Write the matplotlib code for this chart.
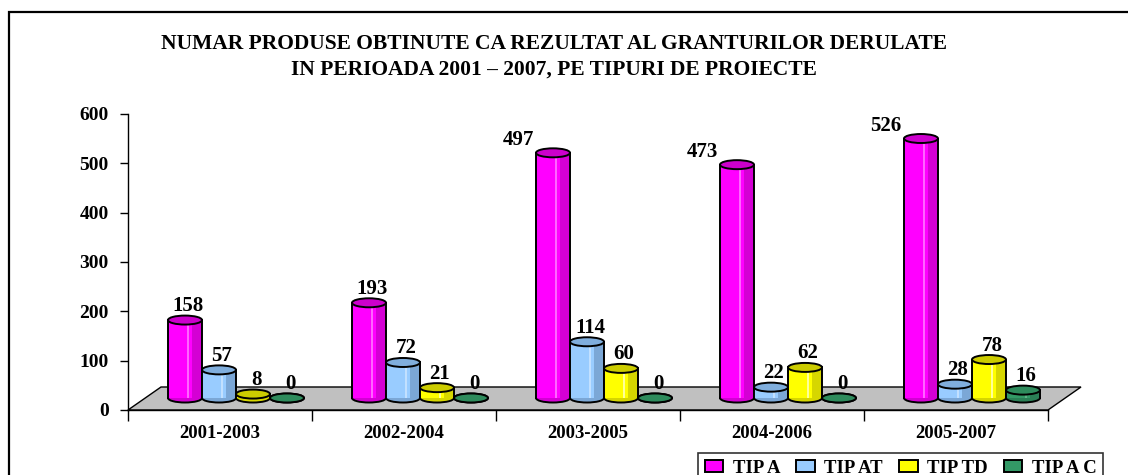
import numpy as np
import matplotlib.pyplot as plt
from matplotlib.patches import Ellipse, Rectangle, Polygon, Patch

# data
periods = ["2001-2003", "2002-2004", "2003-2005", "2004-2006", "2005-2007"]
tip_a = [158, 193, 497, 473, 526]
tip_at = [57, 72, 114, 22, 28]
tip_td = [8, 21, 60, 62, 78]
tip_ac = [0, 0, 0, 0, 16]
names = ["TIP A", "TIP AT", "TIP TD", "TIP A C"]

title = ("NUMAR PRODUSE OBTINUTE CA REZULTAT AL GRANTURILOR DERULATE\n"
         "IN PERIOADA 2001 \u2013 2007, PE TIPURI DE PROIECTE")

# colours: face, light stripe, dark side, top cap
styles = [
    ("#FF00FF", "#FF66FF", "#D400D4", "#CC00CC"),
    ("#99CCFF", "#C2E0FF", "#7BA7D6", "#80AEDD"),
    ("#FFFF00", "#FFFF99", "#D6D600", "#CCCC00"),
    ("#339966", "#5CB386", "#2A7F55", "#2E8B5C"),
]

plt.rcParams['font.family'] = ['Liberation Serif', 'DejaVu Serif']
plt.rcParams['font.weight'] = 'bold'

W, H = 1128, 475
fig = plt.figure(figsize=(W / 100, H / 100), dpi=100)
ax = fig.add_axes([128 / W, 65 / H, 920 / W, 296 / H])
ax.set_xlim(-0.5, 4.5)
ax.set_ylim(0, 600)

px_x = 920 / 5       # pixels per category
px_y = 296 / 600     # pixels per unit

# outer frame (cut by the image edge on the right and bottom)
fig.patches.append(Rectangle((9 / W, -0.2), 1.2, 1.2 - 12 / H, transform=fig.transFigure,
                             fill=False, lw=1.6, edgecolor="black"))

fig.text(554 / W, 1 - 57 / H, title, ha="center", va="center", fontsize=15.5,
         fontweight="bold", linespacing=1.35)

# grey floor
ddx = 33 / px_x
ddy = 23 / px_y
floor = Polygon([(-0.5, 0), (4.5, 0), (4.5 + ddx, ddy), (-0.5 + ddx, ddy)],
                closed=True, facecolor="#C0C0C0", edgecolor="black", lw=1,
                zorder=1, clip_on=False)
ax.add_patch(floor)

base = ddy / 2 + 1
cap = 9 / px_y
bw = 34 / px_x

series = [tip_a, tip_at, tip_td, tip_ac]
x = np.arange(len(periods))
for i, vals in enumerate(series):
    face, light, dark, top = styles[i]
    for c, v in zip(x, vals):
        xc = c + (-35 + 34 * i) / px_x
        left = xc - bw / 2
        z = 2 + i * 0.01 + c
        ax.add_patch(Ellipse((xc, base), bw, cap, facecolor=dark, edgecolor="black",
                             lw=1.4, zorder=z, clip_on=False))
        if v > 0:
            ax.add_patch(Rectangle((left, base), bw, v, facecolor=face, lw=0,
                                   zorder=z + 0.001, clip_on=False))
            ax.add_patch(Rectangle((left + bw * 0.55, base), bw * 0.08, v, facecolor=light,
                                   lw=0, zorder=z + 0.002, clip_on=False))
            ax.add_patch(Rectangle((left + bw * 0.72, base), bw * 0.28, v, facecolor=dark,
                                   lw=0, zorder=z + 0.002, clip_on=False))
            ax.plot([left, left], [base, base + v], color="black", lw=1.4,
                    zorder=z + 0.003, clip_on=False)
            ax.plot([left + bw, left + bw], [base, base + v], color="black", lw=1.4,
                    zorder=z + 0.003, clip_on=False)
        ax.add_patch(Ellipse((xc, base + v), bw, cap, facecolor=top, edgecolor="black",
                             lw=1.4, zorder=z + 0.004, clip_on=False))
        if v > 400:
            off = (-35 * 0.72, 13 * 0.72)
        else:
            off = (3 * 0.72, 14 * 0.72)
        ax.annotate(str(v), (xc, base + v), xytext=off, textcoords="offset points",
                    ha="center", va="center", fontsize=15, fontweight="bold",
                    zorder=20, annotation_clip=False)

# axes styling
for s in ["top", "right"]:
    ax.spines[s].set_visible(False)
ax.spines["left"].set_linewidth(1)
ax.spines["bottom"].set_linewidth(1)
ax.spines["bottom"].set_zorder(1.5)
ax.set_yticks(range(0, 601, 100))
ax.tick_params(axis="y", direction="out", length=6, width=1, pad=8, labelsize=14)
ax.set_xticks(np.arange(-0.5, 5, 1))
ax.set_xticklabels([])
ax.set_xticks(x, minor=True)
ax.set_xticklabels(periods, minor=True, fontsize=13.5, fontweight="bold")
ax.tick_params(axis="x", which="major", direction="out", length=8, width=1)
ax.tick_params(axis="x", which="minor", length=0, pad=11)
for lab in ax.get_yticklabels():
    lab.set_fontweight("bold")
ax.patch.set_visible(False)

handles = [Patch(facecolor=s[0], edgecolor="black", lw=1.4) for s in styles]
leg = fig.legend(handles, names, loc="upper left", bbox_to_anchor=(698 / W, 1 - 453 / H),
                 ncol=4, frameon=True, fancybox=False, edgecolor="black",
                 prop={"size": 13.5, "weight": "bold"}, handlelength=1.0,
                 handleheight=0.55, handletextpad=0.5, columnspacing=0.85,
                 borderpad=0.35, borderaxespad=0)
leg.get_frame().set_linewidth(1.2)

fig.savefig("out.png", dpi=100)
